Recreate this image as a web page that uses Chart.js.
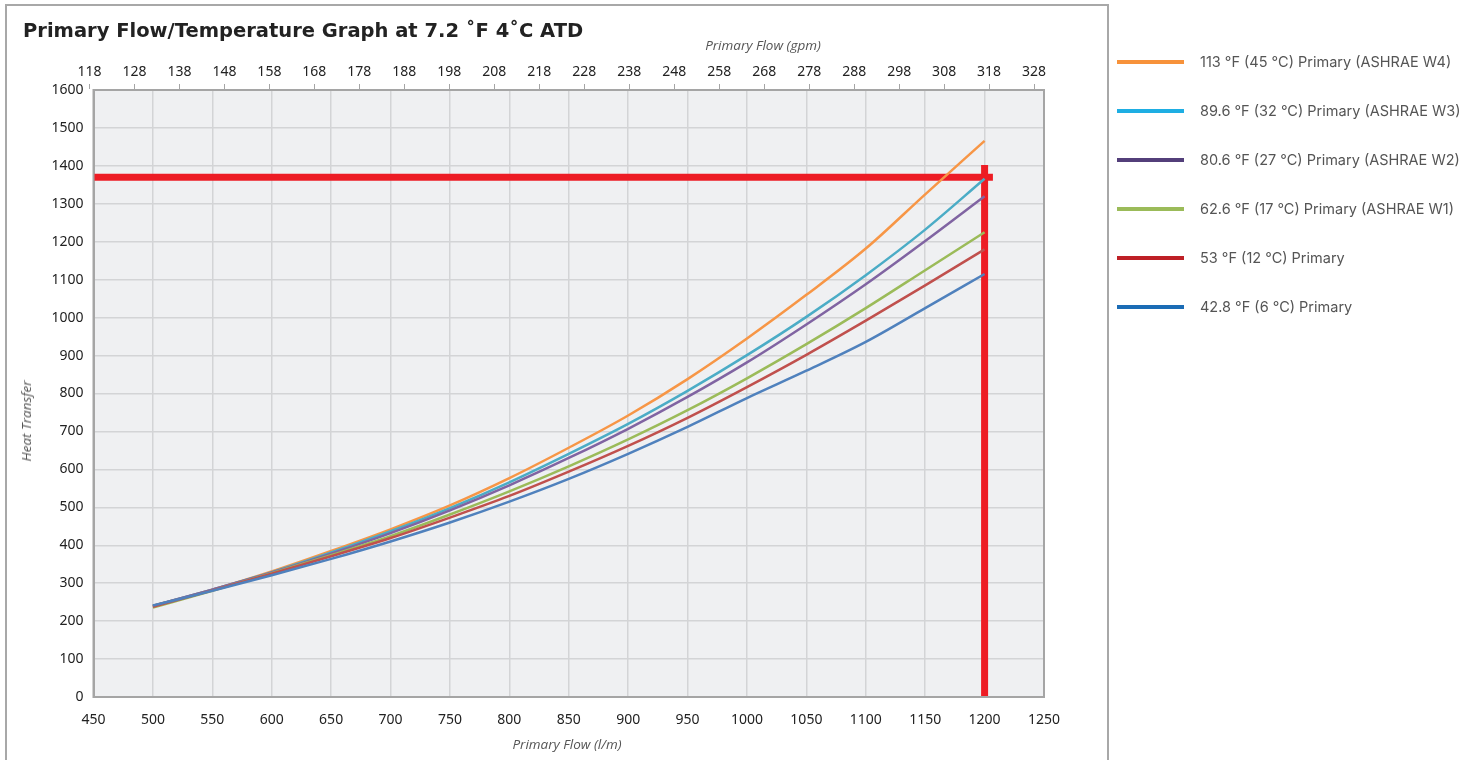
<!DOCTYPE html>
<html>
<head>
<meta charset="utf-8">
<script src="https://cdn.jsdelivr.net/npm/chart.js@4.4.1/dist/chart.umd.min.js"></script>
<style>
  html, body { margin: 0; padding: 0; background: #ffffff; }
  body { width: 1483px; height: 760px; position: relative; overflow: hidden; font-family: 'Noto Sans', sans-serif; }
  #frame { position: absolute; left: 5px; top: 4px; width: 1104px; height: 800px; border: 2px solid #a8a8a8; box-sizing: border-box; }
  #wrap { position: absolute; left: 0; top: 0; width: 1483px; height: 760px; }
  .title { position: absolute; left: 23px; top: 19px; font: bold 19.5px 'DejaVu Sans', sans-serif; color: #222; }
  .axis-title { position: absolute; font: italic 13.5px 'Open Sans', sans-serif; color: #555; white-space: nowrap; transform: translate(-50%, -50%); }
  #legend { position: absolute; left: 1117px; top: 52px; }
  .legend-row { height: 49px; display: flex; align-items: flex-start; }
  .legend-line { width: 67px; height: 4px; margin-top: 8px; }
  .legend-text { margin-left: 16px; font: 14.5px Inter, sans-serif; color: #555; line-height: 20px; }
</style>
</head>
<body>
<div id="frame"></div>
<div id="wrap"><canvas id="chart"></canvas></div>
<div class="title">Primary Flow/Temperature Graph at 7.2 ˚F 4˚C ATD</div>
<div class="axis-title" style="left:763px; top:45px;">Primary Flow (gpm)</div>
<div class="axis-title" style="left:567px; top:744px;">Primary Flow (l/m)</div>
<div class="axis-title" style="left:26px; top:421px; transform: translate(-50%, -50%) rotate(-90deg);">Heat Transfer</div>
<div id="legend"></div>

<script>
// Primary flow (l/m) where the curves are sampled
const flowLpm = [500, 550, 600, 650, 700, 750, 800, 850, 900, 950, 1000, 1050, 1100, 1150, 1200];

// heat transfer per primary temperature
const w4Values = [240, 283, 331, 385, 442, 505, 577, 657, 742, 838, 945, 1060, 1182, 1325, 1466];
const w3Values = [240, 283, 329, 381, 437, 498, 566, 641, 720, 807, 901, 1002, 1112, 1232, 1366];
const w2Values = [240, 283, 328, 378, 432, 492, 558, 630, 707, 791, 882, 982, 1088, 1202, 1320];
const w1Values = [236, 280, 326, 374, 424, 481, 542, 608, 679, 756, 840, 930, 1025, 1125, 1225];
const t12Values = [238, 281, 325, 371, 419, 473, 530, 594, 662, 736, 817, 902, 992, 1085, 1180];
const t6Values = [241, 280, 321, 364, 410, 460, 515, 575, 641, 712, 788, 860, 936, 1025, 1115];

const seriesLabels = [
  '113 °F (45 °C) Primary (ASHRAE W4)',
  '89.6 °F (32 °C) Primary (ASHRAE W3)',
  '80.6 °F (27 °C) Primary (ASHRAE W2)',
  '62.6 °F (17 °C) Primary (ASHRAE W1)',
  '53 °F (12 °C) Primary',
  '42.8 °F (6 °C) Primary',
];
const seriesValues = [w4Values, w3Values, w2Values, w1Values, t12Values, t6Values];
const lineColors = ['#f79646', '#4bacc6', '#8064a2', '#9bbb59', '#c0504d', '#4f81bd'];
const legendColors = ['#f7923a', '#1eaee3', '#533f7a', '#9bbb59', '#be2026', '#1b6cb5'];

// top axis tick labels (gpm)
const gpmTicks = [118, 128, 138, 148, 158, 168, 178, 188, 198, 208, 218, 228, 238, 248, 258, 268, 278, 288, 298, 308, 318, 328];

// red selection lines
const selFlowX = [1200, 1200];
const selFlowY = [0, 1402];
const selHeatX = [450, 1207];
const selHeatY = [1370, 1370];

document.getElementById('legend').innerHTML = seriesLabels.map((l, i) => `
  <div class="legend-row">
    <div class="legend-line" style="background:${legendColors[i]}"></div>
    <div class="legend-text">${l}</div>
  </div>`).join('');

const canvas = document.getElementById('chart');
canvas.width = 1483;
canvas.height = 760;

const plotFrame = {
  id: 'plotFrame',
  beforeDraw(chart) {
    const { ctx, chartArea: a } = chart;
    ctx.save();
    ctx.fillStyle = '#eff0f2';
    ctx.fillRect(a.left, a.top, a.right - a.left, a.bottom - a.top);
    ctx.restore();
  },
  afterDraw(chart) {
    const { ctx, chartArea: a } = chart;
    ctx.save();
    ctx.strokeStyle = '#a5a5a5';
    ctx.lineWidth = 2;
    ctx.strokeRect(a.left, a.top, a.right - a.left, a.bottom - a.top);
    ctx.restore();
  },
};

const curveSets = seriesValues.map((vals, i) => ({
  label: seriesLabels[i],
  data: vals.map((v, k) => ({ x: flowLpm[k], y: v })),
  borderColor: lineColors[i],
  backgroundColor: lineColors[i],
  borderWidth: 2.5,
  pointRadius: 0,
  cubicInterpolationMode: 'monotone',
}));

function redLine(xs, ys) {
  return {
    data: xs.map((x, k) => ({ x, y: ys[k] })),
    borderColor: '#ed1c24',
    borderWidth: 7,
    pointRadius: 0,
    borderCapStyle: 'butt',
  };
}

const tickFont = { family: "'Noto Sans', sans-serif", size: 14 };
const plain = (v) => String(v);

new Chart(canvas, {
  type: 'line',
  data: {
    datasets: [...curveSets.reverse(), redLine(selFlowX, selFlowY), redLine(selHeatX, selHeatY)],
  },
  plugins: [plotFrame],
  options: {
    responsive: false,
    animation: false,
    devicePixelRatio: 1,
    layout: { padding: { left: 0, right: 439, top: 0, bottom: 0 } },
    plugins: { legend: { display: false }, tooltip: { enabled: false } },
    scales: {
      x: {
        type: 'linear',
        position: 'bottom',
        min: 450,
        max: 1250,
        ticks: { stepSize: 50, color: '#222', font: tickFont, padding: 15, maxRotation: 0, callback: plain },
        grid: { color: '#d3d4d6', lineWidth: 1.5, drawTicks: false },
        border: { color: '#a5a5a5', width: 2 },
        afterFit: (s) => { s.height = 63; },
      },
      xTop: {
        type: 'linear',
        position: 'top',
        min: 118.9,
        max: 330.2,
        afterBuildTicks: (s) => { s.ticks = gpmTicks.map((v) => ({ value: v })); },
        ticks: { color: '#222', font: tickFont, padding: 4, maxRotation: 0, autoSkip: false, callback: plain },
        grid: { drawOnChartArea: false, drawTicks: true, tickLength: 6, color: '#a5a5a5' },
        border: { color: '#a5a5a5', width: 2 },
        afterFit: (s) => { s.height = 90; },
      },
      y: {
        type: 'linear',
        min: 0,
        max: 1600,
        ticks: { stepSize: 100, color: '#222', font: tickFont, padding: 10, callback: plain },
        grid: { color: '#d3d4d6', lineWidth: 1.5, drawTicks: false },
        border: { color: '#a5a5a5', width: 2 },
        afterFit: (s) => { s.width = 93.5; },
      },
    },
  },
});
</script>
</body>
</html>
